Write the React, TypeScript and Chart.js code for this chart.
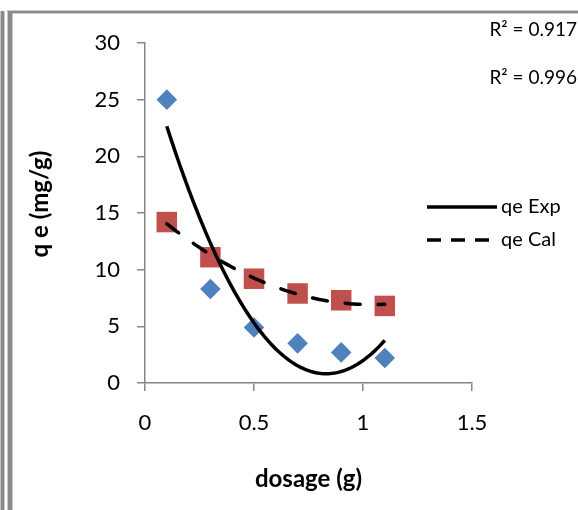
import React, { useEffect, useRef } from 'react';
import { Chart, registerables } from 'chart.js';

Chart.register(...registerables);

// ---- data ----
const dosage = [0.1, 0.3, 0.5, 0.7, 0.9, 1.1];
const qeExp = [25, 8.3, 4.9, 3.5, 2.7, 2.2];
const qeCal = [14.2, 11.1, 9.2, 7.9, 7.3, 6.8];
const seriesNames = ['qe Exp', 'qe Cal'];
const rSquaredLabels = ['R² = 0.917', 'R² = 0.996'];
const xTicks = [0, 0.5, 1, 1.5];
const yTicks = [0, 5, 10, 15, 20, 25, 30];
const xTitle = 'dosage (g)';
const yTitle = 'q e (mg/g)';

// least-squares quadratic (Excel "polynomial, order 2" trendline)
function polyfit2(xs: number[], ys: number[]): number[] {
  const S = [0, 0, 0, 0, 0];
  const T = [0, 0, 0];
  for (let i = 0; i < xs.length; i++) {
    let p = 1;
    for (let k = 0; k < 5; k++) { S[k] += p; p *= xs[i]; }
    p = 1;
    for (let k = 0; k < 3; k++) { T[k] += p * ys[i]; p *= xs[i]; }
  }
  const A = [
    [S[0], S[1], S[2], T[0]],
    [S[1], S[2], S[3], T[1]],
    [S[2], S[3], S[4], T[2]],
  ];
  for (let c = 0; c < 3; c++) {
    for (let r = c + 1; r < 3; r++) {
      const f = A[r][c] / A[c][c];
      for (let k = c; k < 4; k++) A[r][k] -= f * A[c][k];
    }
  }
  const coef = [0, 0, 0];
  for (let r = 2; r >= 0; r--) {
    let s = A[r][3];
    for (let k = r + 1; k < 3; k++) s -= A[r][k] * coef[k];
    coef[r] = s / A[r][r];
  }
  return coef;
}

function trend(xs: number[], ys: number[]) {
  const [a, b, c] = polyfit2(xs, ys);
  const lo = Math.min(...xs);
  const hi = Math.max(...xs);
  const n = 100;
  const pts: { x: number; y: number }[] = [];
  for (let i = 0; i <= n; i++) {
    const x = lo + ((hi - lo) * i) / n;
    pts.push({ x, y: a + b * x + c * x * x });
  }
  return pts;
}

const FONT = 'Lato, Carlito, "Open Sans", sans-serif';
const AXIS_GREY = '#868686';

const overlayPlugin = {
  id: 'overlay',
  afterDraw(chart: any) {
    const ctx = chart.ctx as CanvasRenderingContext2D;
    ctx.save();
    ctx.fillStyle = '#000';

    // y axis title
    ctx.save();
    ctx.font = `bold 24px ${FONT}`;
    ctx.textAlign = 'center';
    ctx.textBaseline = 'middle';
    ctx.translate(40, 204);
    ctx.rotate(-Math.PI / 2);
    ctx.fillText(yTitle, 0, 0);
    ctx.restore();

    ctx.font = `19px ${FONT}`;
    ctx.textBaseline = 'middle';
    ctx.textAlign = 'right';
    ctx.fillText(rSquaredLabels[0], 577, 30);
    ctx.fillText(rSquaredLabels[1], 577, 78);

    // legend (trendlines only)
    ctx.strokeStyle = '#000';
    ctx.lineWidth = 3.5;
    ctx.lineCap = 'butt';
    ctx.beginPath();
    ctx.moveTo(427, 207);
    ctx.lineTo(497, 207);
    ctx.stroke();
    ctx.setLineDash([14, 10]);
    ctx.beginPath();
    ctx.moveTo(427, 240);
    ctx.lineTo(489, 240);
    ctx.stroke();
    ctx.setLineDash([]);
    ctx.textAlign = 'left';
    ctx.font = `20px ${FONT}`;
    ctx.fillText(seriesNames[0], 501, 207);
    ctx.fillText(seriesNames[1], 501, 240);
    ctx.restore();
  },
};

export default function App() {
  const ref = useRef<HTMLCanvasElement>(null);

  useEffect(() => {
    if (!ref.current) return;
    const expPts = dosage.map((x, i) => ({ x, y: qeExp[i] }));
    const calPts = dosage.map((x, i) => ({ x, y: qeCal[i] }));
    const chart = new Chart(ref.current, {
      type: 'scatter',
      data: {
        datasets: [
          {
            label: seriesNames[0] + ' trend',
            data: trend(dosage, qeExp),
            showLine: true,
            borderColor: '#000',
            borderWidth: 3.5,
            pointRadius: 0,
            fill: false,
          },
          {
            label: seriesNames[1] + ' trend',
            data: trend(dosage, qeCal),
            showLine: true,
            borderColor: '#000',
            borderWidth: 3.5,
            borderDash: [15, 18],
            borderCapStyle: 'round',
            pointRadius: 0,
            fill: false,
          },
          {
            label: seriesNames[0],
            data: expPts,
            pointStyle: 'rectRot',
            pointRadius: 10.3,
            pointBackgroundColor: '#4F81BD',
            pointBorderWidth: 0,
            borderWidth: 0,
          },
          {
            label: seriesNames[1],
            data: calPts,
            pointStyle: 'rect',
            pointRadius: 14.5,
            pointBackgroundColor: '#C0504D',
            pointBorderWidth: 0,
            borderWidth: 0,
          },
        ],
      } as any,
      options: {
        animation: false,
        responsive: false,
        devicePixelRatio: 1,
        layout: { padding: { left: 0, right: 106, top: 43, bottom: 0 } },
        plugins: { legend: { display: false }, tooltip: { enabled: false } },
        scales: {
          x: {
            type: 'linear',
            min: 0,
            max: 1.5,
            afterBuildTicks: (s: any) => { s.ticks = xTicks.map((v) => ({ value: v })); },
            afterFit: (s: any) => { s.height = 127; },
            grid: { drawOnChartArea: false, drawTicks: true, tickLength: 8, color: AXIS_GREY, lineWidth: 1.5 },
            border: { display: true, color: AXIS_GREY, width: 1.5 },
            ticks: {
              color: '#000',
              font: { family: FONT, size: 22 },
              padding: 19,
              maxRotation: 0,
              callback: (v: any) => String(v),
            },
            title: {
              display: true,
              text: xTitle,
              color: '#000',
              font: { family: FONT, size: 24, weight: 'bold' },
              padding: { top: 0, bottom: 16 },
            },
          },
          y: {
            type: 'linear',
            min: 0,
            max: 30,
            afterBuildTicks: (s: any) => { s.ticks = yTicks.map((v) => ({ value: v })); },
            afterFit: (s: any) => { s.width = 145; },
            grid: { drawOnChartArea: false, drawTicks: true, tickLength: 8, color: AXIS_GREY, lineWidth: 1.5 },
            border: { display: true, color: AXIS_GREY, width: 1.5 },
            ticks: {
              color: '#000',
              font: { family: FONT, size: 22 },
              padding: 17,
              callback: (v: any) => String(v),
            },
            title: { display: false },
          },
        },
      } as any,
      plugins: [overlayPlugin],
    });
    return () => chart.destroy();
  }, []);

  const stripe = (left: number, top: number, w: number, h: number, c: string) => (
    <div style={{ position: 'absolute', left, top, width: w, height: h, background: c }} />
  );

  return (
    <div style={{ position: 'fixed', left: 0, top: 0, width: 578, height: 510, background: '#fff', overflow: 'hidden' }}>
      <canvas ref={ref} width={578} height={510} style={{ position: 'absolute', left: 0, top: 0, width: 578, height: 510 }} />
      {stripe(0, 11, 5, 499, '#c8c8c8')}
      {stripe(1, 11, 3, 499, '#8a8a8a')}
      {stripe(7, 10, 571, 4, '#c8c8c8')}
      {stripe(7, 10, 6, 500, '#c8c8c8')}
      {stripe(8, 11, 570, 2, '#8a8a8a')}
      {stripe(8, 11, 4, 499, '#8a8a8a')}
    </div>
  );
}
